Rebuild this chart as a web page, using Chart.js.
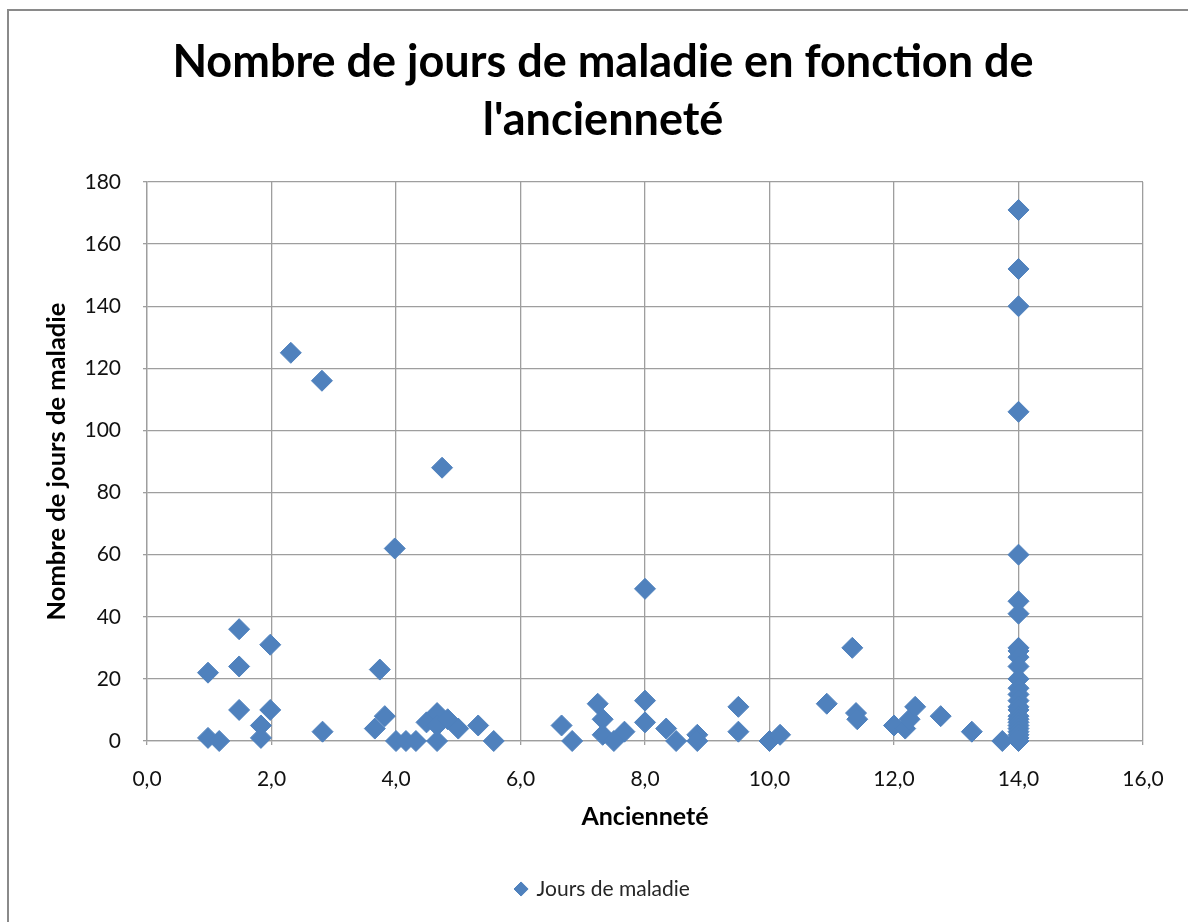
<!DOCTYPE html>
<html>
<head>
<meta charset="utf-8">
<script src="https://cdn.jsdelivr.net/npm/chart.js@4"></script>
<style>
  html, body { margin: 0; padding: 0; background: #fff; overflow: hidden; width: 1188px; height: 922px; }
  #cadre { position: absolute; left: 7px; top: 9px; width: 1192px; height: 940px; border: 2px solid #8a8a8a; box-sizing: border-box; }
  #cadre canvas { display: block; }
</style>
</head>
<body>
<div id="cadre"><canvas id="nuage"></canvas></div>
<script>
// ancienneté (années) et jours de maladie
const anciennete = [
	0.98, 0.98, 1.16, 1.48, 1.48, 1.48, 1.83, 1.83, 1.98, 1.98,
	2.31, 2.81, 2.82, 3.66, 3.74, 3.82, 3.98, 4.0, 4.16, 4.32,
	4.49, 4.66, 4.66, 4.66, 4.74, 4.83, 5.0, 5.32, 5.57,
	6.66, 6.83, 7.24, 7.32, 7.32, 7.5, 7.67, 8.0, 8.0, 8.0,
	8.34, 8.5, 8.84, 8.84, 9.5, 9.5, 10.0, 10.17, 10.92, 11.33,
	11.39, 11.41, 12.0, 12.18, 12.25, 12.34, 12.75, 13.25, 13.74,
	14, 14, 14, 14, 14, 14, 14, 14, 14, 14, 14, 14, 14,
	14, 14, 14, 14, 14, 14, 14, 14, 14, 14, 14, 14, 14,
];
const joursMaladie = [
	22, 1, 0, 36, 24, 10, 5, 1, 31, 10,
	125, 116, 3, 4, 23, 8, 62, 0, 0, 0,
	6, 9, 5, 0, 88, 7, 4, 5, 0,
	5, 0, 12, 7, 2, 0, 3, 49, 13, 6,
	4, 0, 2, 0, 11, 3, 0, 2, 12, 30,
	9, 7, 5, 4, 7, 11, 8, 3, 0,
	171, 152, 140, 106, 60, 45, 41, 30, 29, 27, 24, 20, 17,
	15, 13, 11, 10, 8, 7, 6, 5, 4, 3, 2, 1, 0,
];
const ticksX = [0, 2, 4, 6, 8, 10, 12, 14, 16];
const ticksY = [0, 20, 40, 60, 80, 100, 120, 140, 160, 180];

const points = anciennete.map((x, i) => ({ x: x, y: joursMaladie[i] }));
const bleu = "#4F81BD";
const grille = "#9e9e9e";

const ctx = document.getElementById("nuage");
const chart = new Chart(ctx, {
	type: "scatter",
	data: {
		datasets: [
			{
				label: "Jours de maladie",
				data: points,
				pointStyle: "rectRot",
				pointRadius: 10.5,
				pointHoverRadius: 10.5,
				backgroundColor: bleu,
				borderColor: bleu,
				pointBorderWidth: 1,
				clip: false,
			},
		],
	},
	options: {
		responsive: true,
		maintainAspectRatio: false,
		animation: false,
		layout: {
			padding: { left: 54, right: 54, top: 0, bottom: 37.5 },
		},
		plugins: {
			title: {
				display: true,
				text: ["Nombre de jours de maladie en fonction de", "l'ancienneté"],
				color: "#000",
				font: { family: "Lato", size: 45, weight: "bold", lineHeight: 58 / 45 },
				padding: { top: 22, bottom: 33 },
			},
			legend: {
				position: "bottom",
				labels: {
					usePointStyle: true,
					boxWidth: 10,
					boxHeight: 10,
					color: "#262626",
					font: { family: "Lato", size: 21 },
				},
			},
			tooltip: { enabled: false },
		},
		scales: {
			x: {
				type: "linear",
				min: 0,
				max: 16,
				afterBuildTicks: (s) => { s.ticks = ticksX.map((v) => ({ value: v })); },
				afterFit: (s) => { s.height = 127.5; },
				grid: { color: grille, lineWidth: 1.3, tickLength: 4 },
				border: { color: grille, width: 1.3 },
				ticks: {
					padding: 22,
					color: "#111",
					font: { family: "Lato", size: 21 },
					callback: (v) => v.toFixed(1).replace(".", ","),
				},
				title: {
					display: true,
					text: "Ancienneté",
					color: "#000",
					font: { family: "Lato", size: 25, weight: "bold" },
					padding: { top: 0, bottom: 36.5 },
				},
			},
			y: {
				min: 0,
				max: 180,
				afterBuildTicks: (s) => { s.ticks = ticksY.map((v) => ({ value: v })); },
				afterFit: (s) => { s.width = 84; },
				grid: { color: grille, lineWidth: 1.3, tickLength: 4 },
				border: { color: grille, width: 1.3 },
				ticks: {
					padding: 22,
					color: "#111",
					font: { family: "Lato", size: 21 },
				},
				title: {
					display: true,
					text: "Nombre de jours de maladie",
					color: "#000",
					font: { family: "Lato", size: 25.5, weight: "bold" },
					padding: { top: -21.3, bottom: 0 },
				},
			},
		},
	},
});
</script>
</body>
</html>
